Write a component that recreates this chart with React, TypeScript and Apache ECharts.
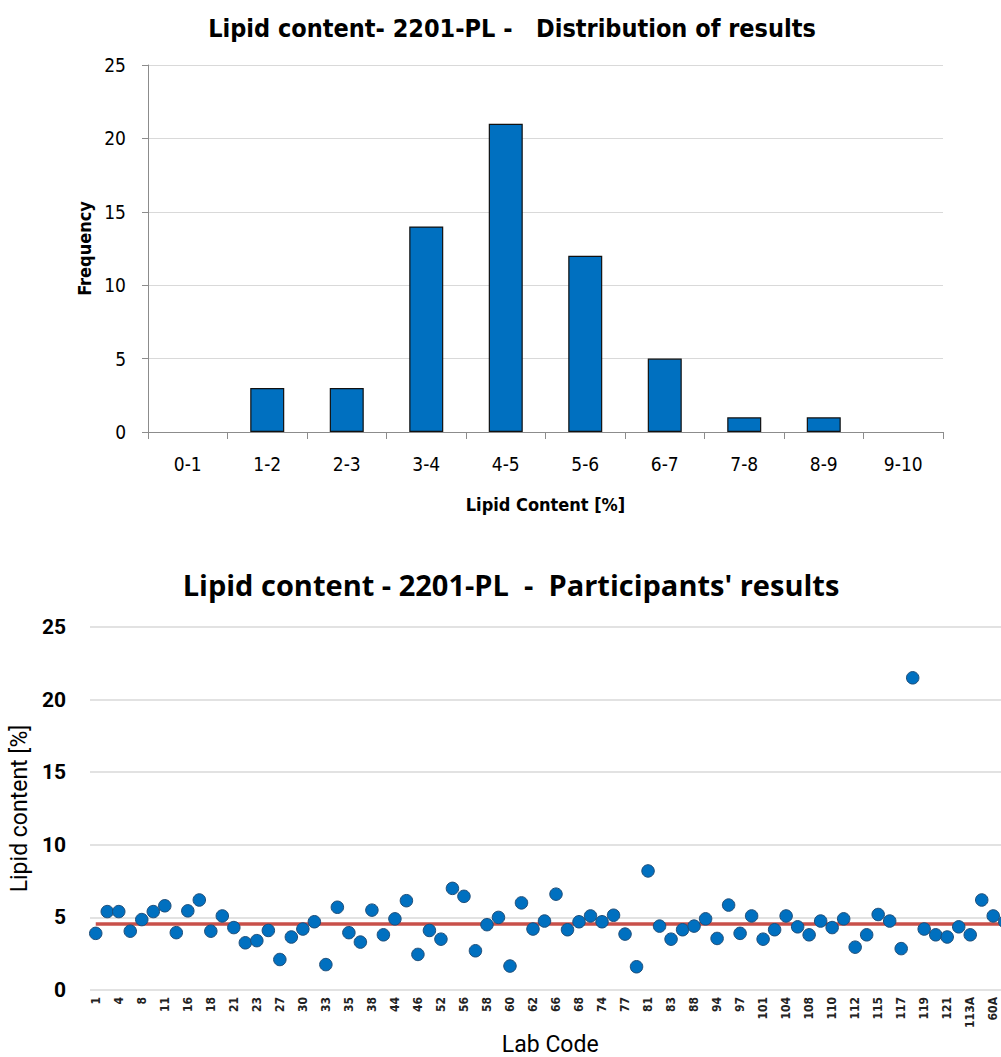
import React, { useEffect, useRef } from "react";
import * as echarts from "echarts";

// ---- Top chart: distribution of results ----
const binLabels = ["0-1", "1-2", "2-3", "3-4", "4-5", "5-6", "6-7", "7-8", "8-9", "9-10"];
const binFrequency = [0, 3, 3, 14, 21, 12, 5, 1, 1, 0];

// ---- Bottom chart: participants' results ----
const labCodes = [
  "1", "3", "4", "6", "8", "9", "11", "14", "16", "17",
  "18", "20", "21", "22", "23", "25", "27", "29", "30", "31",
  "33", "34", "35", "37", "38", "41", "44", "45", "46", "50",
  "52", "54", "56", "57", "58", "59", "60", "61", "62", "64",
  "66", "67", "68", "71", "74", "76", "77", "79", "81", "82",
  "83", "86", "88", "91", "94", "95", "97", "99", "101", "103",
  "104", "106", "108", "109", "110", "111", "112", "114", "115", "116",
  "117", "118", "119", "120", "121", "122", "113A", "2A", "60A", "61A",
];
const lipidResults = [
  3.9, 5.4, 5.4, 4.05, 4.85, 5.4, 5.8, 3.95, 5.45, 6.2,
  4.05, 5.1, 4.3, 3.25, 3.4, 4.1, 2.1, 3.65, 4.2, 4.7,
  1.75, 5.7, 3.95, 3.3, 5.5, 3.8, 4.9, 6.15, 2.45, 4.1,
  3.5, 7.0, 6.45, 2.7, 4.5, 5.0, 1.65, 6.0, 4.2, 4.75,
  6.6, 4.15, 4.7, 5.1, 4.7, 5.15, 3.85, 1.6, 8.2, 4.4,
  3.5, 4.15, 4.4, 4.9, 3.55, 5.85, 3.9, 5.1, 3.5, 4.15,
  5.1, 4.35, 3.8, 4.75, 4.3, 4.9, 2.95, 3.8, 5.2, 4.75,
  2.85, 21.5, 4.2, 3.8, 3.65, 4.35, 3.8, 6.2, 5.1, 4.7,
];
const assignedValue = 4.53;

const topTicks = [0, 25, 5];
const bottomTicks = [0, 25, 5];

const condensed = "'Liberation Sans Narrow', 'DejaVu Sans Condensed', sans-serif";
const din = "Roboto, 'Noto Sans', sans-serif";

export default function App() {
  const ref = useRef<HTMLDivElement>(null);

  useEffect(() => {
    if (!ref.current) return;
    const chart = echarts.init(ref.current, undefined, { renderer: "svg" });
    const catW = 11.52;
    const barData = binFrequency.map((v) =>
      v === 0 ? { value: v, itemStyle: { borderWidth: 0, opacity: 0 } } : v
    );
    const option: any = {
      animation: false,
      backgroundColor: "#ffffff",
      title: [
        {
          text: "Lipid content- 2201-PL -   Distribution of results",
          left: 507,
          textAlign: "center",
          top: 11,
          textStyle: { fontFamily: condensed, fontWeight: "bold", fontSize: 25, color: "#000" },
        },
        {
          text: "Lipid content - 2201-PL  -  Participants' results",
          left: 506,
          textAlign: "center",
          top: 565,
          textStyle: { fontFamily: "'Open Sans', Roboto, sans-serif", fontWeight: "bold", fontSize: 29, color: "#000" },
        },
      ],
      grid: [
        { left: 148, width: 795, top: 65, height: 367, containLabel: false },
        { left: 88.9, width: catW * labCodes.length, top: 627, height: 363, containLabel: false },
      ],
      xAxis: [
        {
          gridIndex: 0,
          type: "category",
          data: binLabels,
          boundaryGap: true,
          axisLine: { show: true, lineStyle: { color: "#8c8c8c", width: 1 } },
          axisTick: { show: true, length: 7, lineStyle: { color: "#8c8c8c" } },
          axisLabel: { fontFamily: condensed, fontSize: 19, color: "#000", margin: 22 },
          name: "Lipid Content [%]",
          nameLocation: "middle",
          nameGap: 63,
          nameTextStyle: { fontFamily: condensed, fontWeight: "bold", fontSize: 18, color: "#000" },
        },
        {
          gridIndex: 1,
          type: "category",
          data: labCodes,
          boundaryGap: true,
          axisLine: { show: false },
          axisTick: { show: false },
          axisLabel: {
            interval: 1,
            rotate: 90,
            fontFamily: condensed,
            fontWeight: "bold",
            fontSize: 12,
            color: "#222",
            margin: 7,
          },
          name: "Lab Code",
          nameLocation: "middle",
          nameGap: 43,
          nameTextStyle: { fontFamily: din, fontSize: 23, color: "#000" },
        },
      ],
      yAxis: [
        {
          gridIndex: 0,
          type: "value",
          min: topTicks[0],
          max: topTicks[1],
          interval: topTicks[2],
          axisLine: { show: true, lineStyle: { color: "#8c8c8c", width: 1 } },
          axisTick: { show: true, length: 6, lineStyle: { color: "#8c8c8c" } },
          axisLabel: { fontFamily: condensed, fontSize: 19, color: "#000", margin: 22 },
          splitLine: { show: true, lineStyle: { color: "#d9d9d9", width: 1.2 } },
          name: "Frequency",
          nameLocation: "middle",
          nameGap: 52,
          nameTextStyle: { fontFamily: condensed, fontWeight: "bold", fontSize: 18, color: "#000" },
        },
        {
          gridIndex: 1,
          type: "value",
          min: bottomTicks[0],
          max: bottomTicks[1],
          interval: bottomTicks[2],
          axisLine: { show: false },
          axisTick: { show: false },
          axisLabel: { fontFamily: din, fontWeight: "bold", fontSize: 21, color: "#000", margin: 24 },
          splitLine: { show: true, lineStyle: { color: "#d9d9d9", width: 1.5 } },
          name: "Lipid content [%]",
          nameLocation: "middle",
          nameGap: 54,
          nameTextStyle: { fontFamily: din, fontSize: 23, color: "#000" },
        },
      ],
      series: [
        {
          type: "bar",
          xAxisIndex: 0,
          yAxisIndex: 0,
          data: barData,
          barWidth: 34,
          itemStyle: { color: "#0070C0", borderColor: "#111", borderWidth: 1.2 },
        },
        {
          type: "scatter",
          xAxisIndex: 1,
          yAxisIndex: 1,
          data: lipidResults,
          symbol: "circle",
          symbolSize: 12.5,
          z: 3,
          itemStyle: { color: "#0070C0", borderColor: "#1F4E79", borderWidth: 1, opacity: 1 },
          markLine: {
            silent: true,
            symbol: "none",
            z: 1,
            label: { show: false },
            lineStyle: { color: "#C8504A", width: 3.5, type: "solid" },
            data: [
              [
                { coord: [labCodes[0], assignedValue] },
                { coord: [labCodes[labCodes.length - 1], assignedValue] },
              ],
            ],
          },
        },
      ],
    };
    chart.setOption(option);
    return () => chart.dispose();
  }, []);

  return (
    <div style={{ position: "absolute", left: 0, top: 0, width: 1001, height: 1057, overflow: "hidden" }}>
      <div ref={ref} style={{ position: "absolute", left: 0, top: 0, width: 1030, height: 1057 }} />
    </div>
  );
}
